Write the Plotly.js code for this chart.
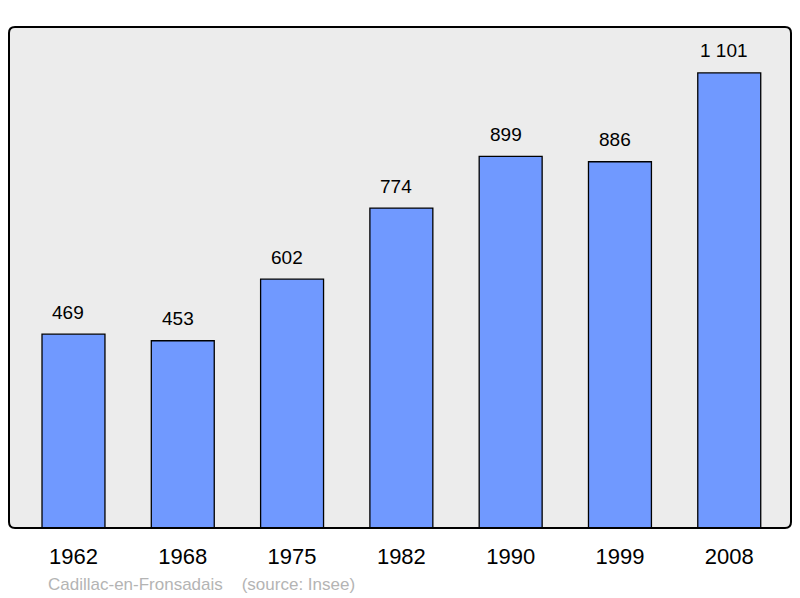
<!DOCTYPE html>
<html>
<head>
<meta charset="utf-8">
<script src="https://cdn.plot.ly/plotly-3.0.1.min.js"></script>
<style>html,body{margin:0;padding:0;background:#fff;}#chart{width:800px;height:598px;}</style>
</head>
<body>
<div id="chart"></div>
<script>
var years = ["1962", "1968", "1975", "1982", "1990", "1999", "2008"];
var population = [469, 453, 602, 774, 899, 886, 1101];
var valueLabels = ["469", "453", "602", "774", "899", "886", "1 101"];
var footerText = "Cadillac-en-Fronsadais \u00a0\u00a0 (source: Insee)";

var xIdx = years.map(function (_, i) { return i; });

var trace = {
  type: "bar",
  x: xIdx,
  y: population,
  width: 0.576,
  marker: { color: "#7099ff", line: { color: "#000000", width: 1.3 } },
  hoverinfo: "skip"
};

var annotations = xIdx.map(function (i) {
  return {
    x: i, y: population[i], xref: "x", yref: "y",
    text: valueLabels[i], showarrow: false,
    yanchor: "middle", yshift: 22, xshift: -5,
    font: { family: "Liberation Sans, Arial, sans-serif", size: 19, color: "#000" }
  };
});
annotations.push({
  x: 37 / 782, xref: "paper", y: -0.1118, yref: "paper",
  xanchor: "left", yanchor: "middle", showarrow: false,
  text: footerText,
  font: { family: "Liberation Sans, Arial, sans-serif", size: 17, color: "#b4b4b4" }
});

var rx = 6 / 782, ry = 6 / 501;
function roundRect() {
  return "M " + rx + " 0 L " + (1 - rx) + " 0 Q 1 0 1 " + ry +
    " L 1 " + (1 - ry) + " Q 1 1 " + (1 - rx) + " 1 L " + rx + " 1 Q 0 1 0 " + (1 - ry) +
    " L 0 " + ry + " Q 0 0 " + rx + " 0 Z";
}

var layout = {
  width: 800, height: 598,
  margin: { l: 9, r: 9, t: 27, b: 70, pad: 0 },
  paper_bgcolor: "#ffffff",
  plot_bgcolor: "rgba(0,0,0,0)",
  showlegend: false,
  xaxis: {
    range: [-0.59, 6.565],
    tickmode: "array", tickvals: xIdx, ticktext: years,
    showgrid: false, zeroline: false, showline: false,
    ticks: "outside", ticklen: 9, tickcolor: "rgba(0,0,0,0)",
    tickfont: { family: "Liberation Sans, Arial, sans-serif", size: 22, color: "#000" },
    fixedrange: true
  },
  yaxis: {
    range: [0, 1212],
    showgrid: false, zeroline: false, showline: false, showticklabels: false, ticks: "",
    fixedrange: true
  },
  shapes: [
    { type: "path", xref: "paper", yref: "paper", path: roundRect(),
      fillcolor: "#ececec", line: { width: 0 }, layer: "below" },
    { type: "path", xref: "paper", yref: "paper", path: roundRect(),
      fillcolor: "rgba(0,0,0,0)", line: { color: "#000", width: 2 }, layer: "above" }
  ],
  annotations: annotations,
  bargap: 0
};

Plotly.newPlot("chart", [trace], layout, { displayModeBar: false, staticPlot: true });
</script>
</body>
</html>
